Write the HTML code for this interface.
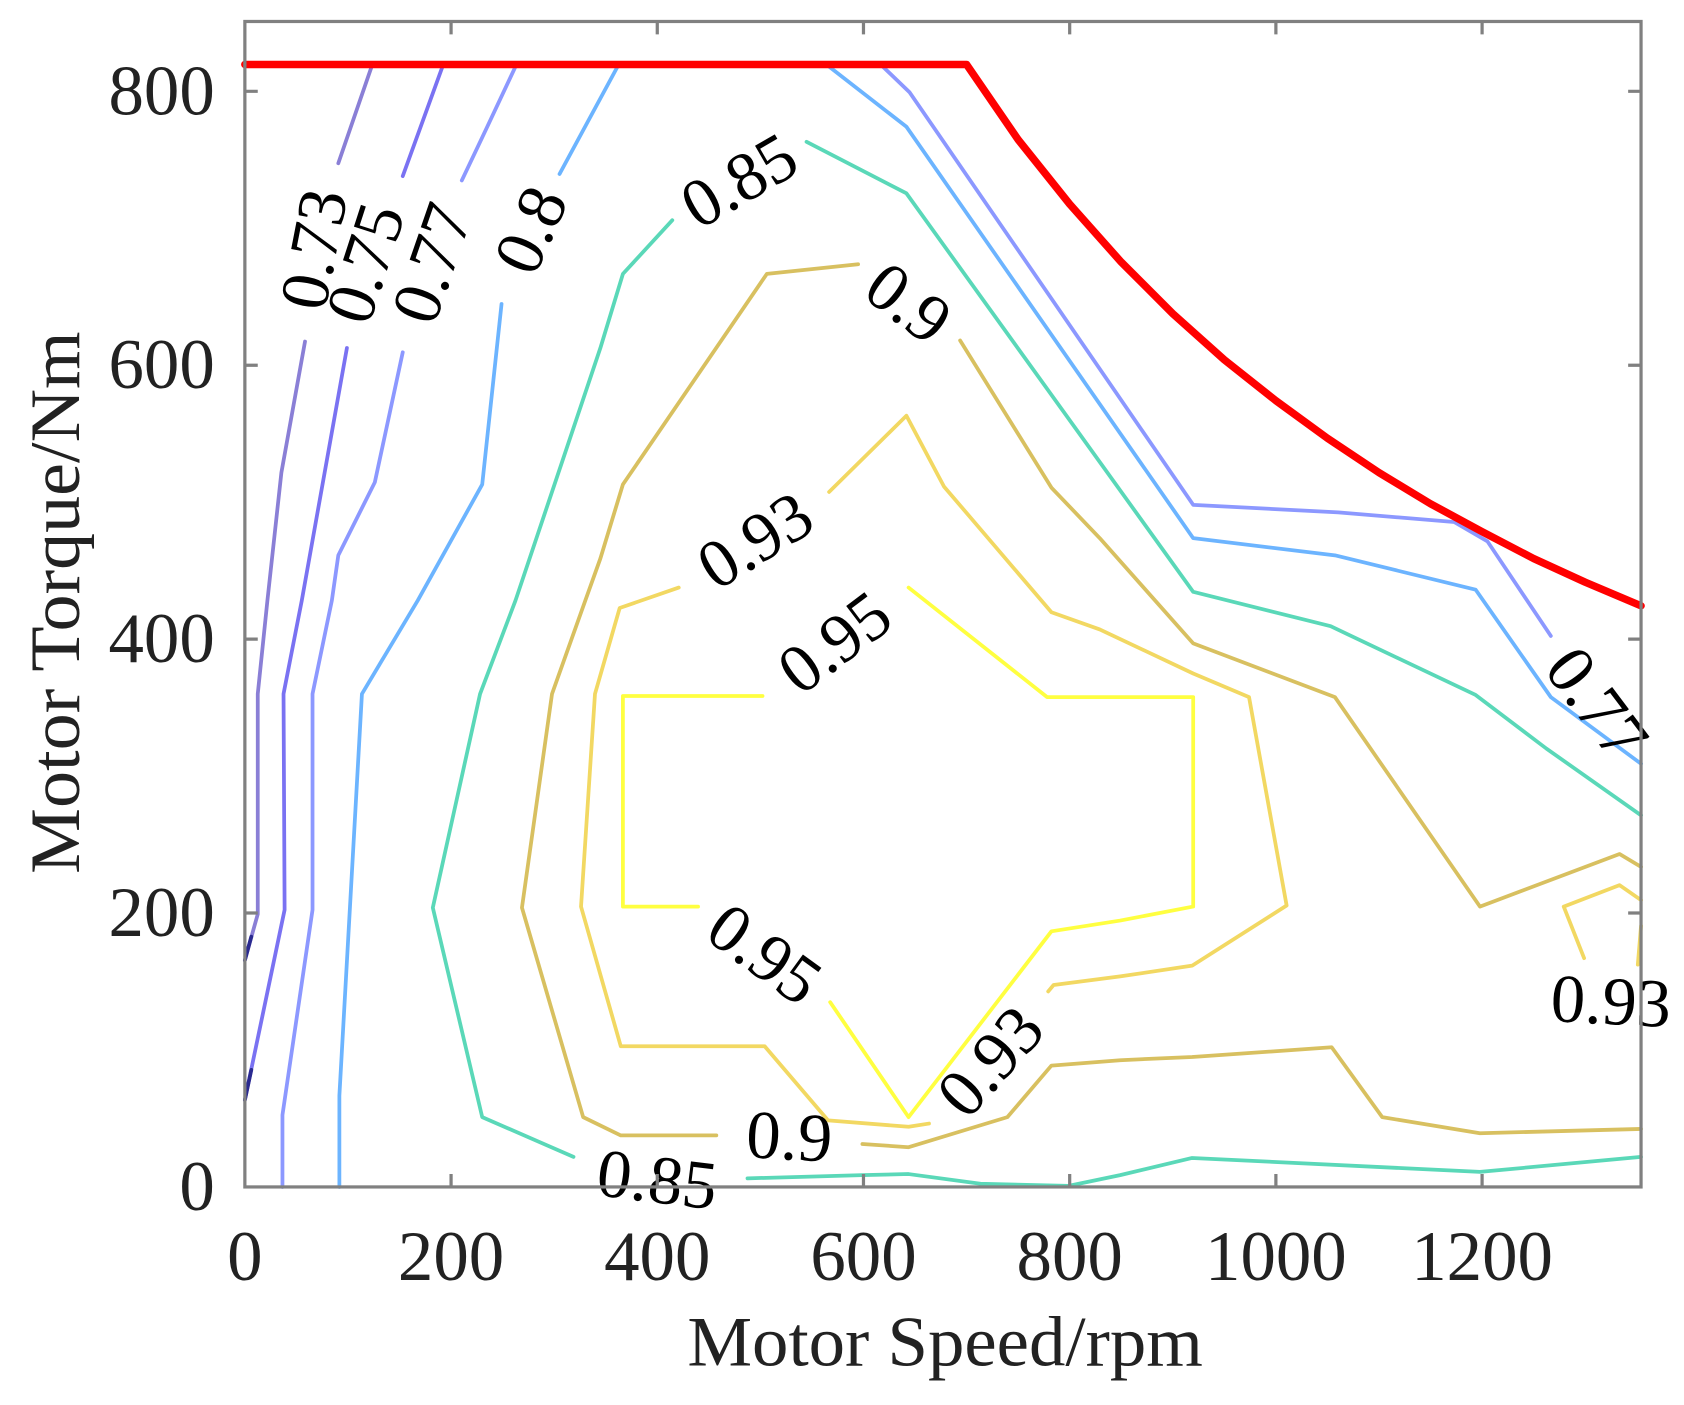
<!DOCTYPE html>
<html><head><meta charset="utf-8"><style>html,body{margin:0;padding:0;background:#fff}svg{display:block}</style></head>
<body>
<svg width="1684" height="1405" viewBox="0 0 1568 1308" preserveAspectRatio="none" xmlns="http://www.w3.org/2000/svg" font-family="Liberation Serif, serif">
<g fill="none" stroke-width="3.5" stroke-linejoin="round" stroke-linecap="round">
<path stroke="#8a7fd6" d="M228,894 L240,851 L240,646 L249,559 L262,440 L284,318 M315,152 L346,62"/>
<path stroke="#2a2a90" d="M228,894 L234,872"/>
<path stroke="#7a72f2" d="M228,1024 L265,847 L264,646 L281,559 L323,324 M375,164 L412,62"/>
<path stroke="#2a2a90" d="M228,1024 L234,996"/>
<path stroke="#8c98ff" d="M263,1105 L263,1038 L291,847 L291,646 L309,559 L315,517 L349,449 L375,328 M430,168 L449,128 L480,62"/>
<path stroke="#8c98ff" d="M822,62 L847,86 L1111,470 L1246,477 L1354,486 L1385,504 L1444,592"/>
<path stroke="#6cb4ff" d="M316,1105 L316,1020 L337,646 L389,559 L449,451 L467,283 M521,162 L575,62"/>
<path stroke="#6cb4ff" d="M772,62 L844,118 L1111,501 L1243,517 L1374,549 L1444,649 L1528,711"/>
<path stroke="#5ad8b8" d="M534,1077 L449,1040 L403,845 L447,646 L480,559 L559,324 L580,255 L626,205 M751,132 L844,180 L1111,551 L1239,583 L1374,647 L1440,697 L1528,759"/>
<path stroke="#5ad8b8" d="M696,1097 L803,1094 L846,1093 L913,1102 L995,1104 L1043,1094 L1110,1078 L1378,1091 L1528,1077"/>
<path stroke="#d8c060" d="M799,246 L714,255 L580,451 L559,520 L545,559 L514,646 L486,845 L543,1040 L578,1057 L667,1057 M803,1065 L846,1068 L938,1040 L979,992 L1043,987 L1110,984 L1240,975 L1287,1040 L1378,1055 L1528,1051 M894,317 L979,454 L1024,501 L1111,599 L1243,649 L1378,844 L1508,795 L1528,807"/>
<path stroke="#f2d862" d="M772,458 L844,387 L879,453 L979,570 L1024,586 L1111,627 L1163,649 L1198,843 L1110,899 L1043,909 L981,917 L976,923 M865,1046 L846,1049 L771,1043 L712,974 L578,974 L541,844 L554,646 L577,566 L632,547"/>
<path stroke="#f2d862" d="M1475,892 L1456,844 L1508,824 L1528,838 M1525,898 L1528,862"/>
<path stroke="#ffff40" d="M710,648 L580,648 L580,844 L650,844 M773,933 L846,1040 L979,867 L1043,857 L1111,844 L1111,649 L975,649 L846,547"/>
<path stroke="#ff0000" stroke-width="7" d="M228,60 L900,60 L948,130 L996,190 L1044,244 L1092,292 L1140,335 L1188,373 L1236,408 L1284,440 L1332,469 L1380,495 L1428,520 L1476,542 L1528,564"/>
</g>
<g fill="#000" font-size="64" text-anchor="middle" dominant-baseline="central">
<text transform="translate(292,232) rotate(-79)">0.73</text>
<text transform="translate(340,245) rotate(-72)">0.75</text>
<text transform="translate(402,245) rotate(-71)">0.77</text>
<text transform="translate(494,214) rotate(-66)">0.8</text>
<text transform="translate(688,168) rotate(-30)">0.85</text>
<text transform="translate(846,282) rotate(37)">0.9</text>
<text transform="translate(703,503) rotate(-32)">0.93</text>
<text transform="translate(777,598) rotate(-37)">0.95</text>
<text transform="translate(712,888) rotate(36)">0.95</text>
<text transform="translate(922,988) rotate(-48)">0.93</text>
<text transform="translate(735,1058) rotate(3)">0.9</text>
<text transform="translate(612,1098) rotate(7)">0.85</text>
<text transform="translate(1487,655) rotate(53)">0.77</text>
<text transform="translate(1500,932) rotate(3)">0.93</text>
</g>
<g stroke="#808080" stroke-width="3" fill="none">
<rect x="228" y="20" width="1300" height="1085"/>
<path d="M420,1105v-12M612,1105v-12M804,1105v-12M996,1105v-12M1188,1105v-12M1380,1105v-12M420,20v12M612,20v12M804,20v12M996,20v12M1188,20v12M1380,20v12M228,850h12M228,595h12M228,340h12M228,85h12M1528,850h-12M1528,595h-12M1528,340h-12M1528,85h-12"/>
</g>
<g fill="#222" font-size="66">
<g text-anchor="end" dominant-baseline="central">
<text x="200" y="1105">0</text><text x="200" y="850">200</text><text x="200" y="595">400</text><text x="200" y="340">600</text><text x="200" y="85">800</text>
</g>
<g text-anchor="middle" dominant-baseline="central">
<text x="228" y="1170">0</text><text x="420" y="1170">200</text><text x="612" y="1170">400</text><text x="804" y="1170">600</text><text x="996" y="1170">800</text><text x="1188" y="1170">1000</text><text x="1380" y="1170">1200</text>
<text x="880" y="1250" textLength="480" lengthAdjust="spacingAndGlyphs">Motor Speed/rpm</text>
<text transform="translate(52,561) rotate(-90)" textLength="505" lengthAdjust="spacingAndGlyphs">Motor Torque/Nm</text>
</g>
</g>
</svg>
</body></html>
